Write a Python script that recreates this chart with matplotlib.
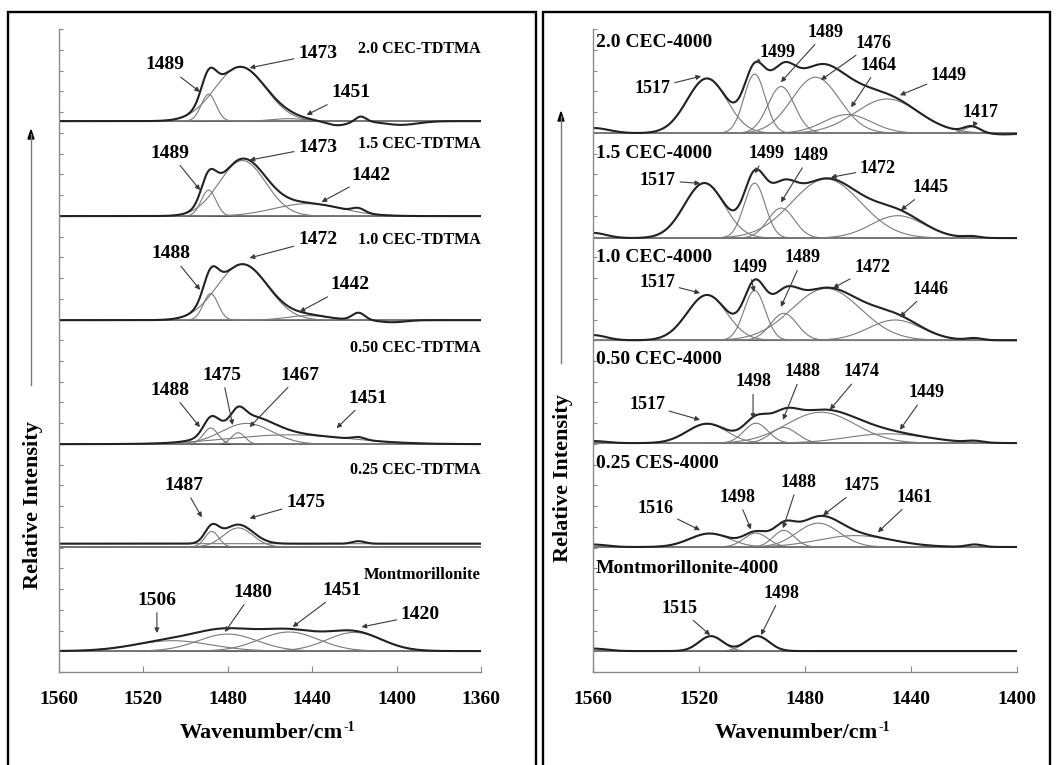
import numpy as np
import matplotlib.pyplot as plt
from matplotlib.patches import Rectangle

plt.rcParams['font.family'] = ['Liberation Serif', 'DejaVu Serif']
plt.rcParams['font.weight'] = 'bold'

# ---- left: TDTMA exchanged clays, 1560-1360 cm-1 ----
left_names = ['2.0 CEC-TDTMA', '1.5 CEC-TDTMA', '1.0 CEC-TDTMA',
              '0.50 CEC-TDTMA', '0.25 CEC-TDTMA', 'Montmorillonite']
left_offsets = [26.57, 21.99, 16.97, 10.99, 6.03, 1.01]
left_title_dy = [3.49, 3.47, 3.87, 4.63, 3.70, 3.66]
# fitted bands (centre, height, sigma)
left_bands = [
    [(1489, 1.30, 3.5), (1474, 2.62, 12), (1451, 0.12, 8)],
    [(1489, 1.25, 3.5), (1473, 2.68, 11), (1442, 0.60, 16)],
    [(1488, 1.28, 3.5), (1473, 2.70, 12), (1442, 0.22, 10)],
    [(1488, 0.78, 3.5), (1475, 0.55, 3.2), (1471, 1.00, 12), (1451, 0.45, 28)],
    [(1487.5, 0.75, 3.3), (1475, 0.92, 7)],
    [(1506, 0.50, 18), (1480, 0.82, 14), (1451, 0.92, 14), (1420, 0.90, 13)],
]
left_flat = [0, 0, 0, 0, 0.16, 0]
# small features present only in the measured trace
left_extra = [
    [(1428, -0.2, 5), (1417, 0.25, 2.5), (1398, -0.18, 8)],
    [(1418, 0.2, 3)],
    [(1418, 0.35, 3), (1402, -0.1, 6)],
    [(1418, 0.12, 3)],
    [(1418, 0.12, 3)],
    [],
]
# peak labels: text, text x, text dy, tip x, tip dy
left_labels = [
    [('1489', 1509.8, 2.71, 1493.1, 1.41), ('1473', 1437.4, 3.24, 1469.6, 2.57),
     ('1451', 1421.7, 1.36, 1442.6, 0.30)],
    [('1489', 1507.3, 3.04, 1493.0, 1.25), ('1473', 1437.4, 3.33, 1469.6, 2.70),
     ('1442', 1411.9, 1.98, 1435.5, 0.68)],
    [('1488', 1506.9, 3.20, 1493.0, 1.46), ('1472', 1437.4, 3.87, 1469.6, 3.00),
     ('1442', 1422.2, 1.70, 1445.9, 0.40)],
    [('1488', 1507.3, 2.60, 1493.1, 0.82), ('1475', 1482.6, 3.33, 1477.6, 0.92),
     ('1467', 1445.8, 3.33, 1469.6, 0.82), ('1451', 1413.7, 2.22, 1428.4, 0.77)],
    [('1487', 1500.8, 2.97, 1492.2, 1.43), ('1475', 1443.1, 2.16, 1469.6, 1.38)],
    [('1506', 1513.5, 2.46, 1513.5, 0.87), ('1480', 1468.1, 2.84, 1481.3, 0.92),
     ('1451', 1426.0, 2.94, 1449.2, 1.16), ('1420', 1388.7, 1.74, 1416.6, 1.16)],
]

# ---- right: 4000 series, 1560-1400 cm-1 ----
right_names = ['2.0 CEC-4000', '1.5 CEC-4000', '1.0 CEC-4000',
               '0.50 CEC-4000', '0.25 CES-4000', 'Montmorillonite-4000']
right_offsets = [25.99, 20.93, 16.00, 11.04, 6.03, 1.01]
right_title_dy = [4.39, 4.08, 3.97, 4.02, 4.04, 4.00]
right_bands = [
    [(1517, 2.64, 7.5), (1499, 2.85, 4), (1489, 2.25, 5), (1476, 2.70, 9),
     (1464, 0.90, 9), (1449, 1.65, 12), (1417, 0.30, 3)],
    [(1518, 2.65, 7.5), (1499, 2.65, 4), (1489, 1.45, 5), (1472, 2.85, 13),
     (1445, 1.08, 10)],
    [(1517, 2.18, 7.5), (1499, 2.40, 4), (1488, 1.30, 5), (1472, 2.50, 13),
     (1446, 0.98, 10)],
    [(1517, 0.93, 7.5), (1498.5, 0.96, 4.5), (1488, 0.75, 5), (1474, 1.49, 13),
     (1449, 0.45, 15)],
    [(1516, 0.65, 7.5), (1498.5, 0.67, 4.5), (1488, 0.80, 4), (1475, 1.15, 8),
     (1461, 0.55, 14)],
    [(1515.5, 0.72, 4.5), (1498, 0.72, 4.5)],
]
right_flat = [0, 0, 0, 0, 0, 0]
right_extra = [
    [(1560, 0.25, 6), (1405, -0.06, 5)],
    [(1560, 0.25, 5), (1417, 0.08, 3)],
    [(1560, 0.25, 5), (1416, 0.10, 3)],
    [(1560, 0.10, 5), (1416, 0.08, 3)],
    [(1560, 0.12, 5), (1416, 0.12, 3)],
    [(1560, 0.12, 5)],
]
right_labels = [
    [('1517', 1537.5, 2.17, 1519.2, 2.75), ('1499', 1490.2, 3.90, 1498.9, 3.38),
     ('1489', 1472.1, 4.87, 1489.1, 2.46), ('1476', 1454.3, 4.34, 1474.0, 2.56),
     ('1464', 1452.1, 3.28, 1462.6, 1.25), ('1449', 1425.7, 2.80, 1444.2, 1.83),
     ('1417', 1413.6, 1.01, 1416.6, 0.29)],
    [('1517', 1535.5, 2.78, 1519.6, 2.64), ('1499', 1494.7, 4.08, 1498.9, 3.12),
     ('1489', 1478.1, 3.99, 1489.1, 1.72), ('1472', 1452.5, 3.36, 1470.2, 2.93),
     ('1445', 1432.8, 2.44, 1443.8, 1.34)],
    [('1517', 1535.8, 2.81, 1519.6, 2.28), ('1499', 1501.1, 3.53, 1499.2, 2.33),
     ('1489', 1480.8, 3.97, 1489.1, 1.61), ('1472', 1454.7, 3.53, 1469.4, 2.52),
     ('1446', 1432.8, 2.47, 1444.2, 1.12)],
    [('1517', 1539.6, 1.85, 1519.6, 1.12), ('1498', 1499.6, 2.96, 1499.6, 1.17),
     ('1488', 1481.1, 3.44, 1488.3, 1.12), ('1474', 1458.5, 3.44, 1470.6, 1.61),
     ('1449', 1434.3, 2.43, 1444.2, 0.64)],
    [('1516', 1536.4, 1.87, 1519.6, 0.81), ('1498', 1505.4, 2.40, 1500.4, 0.85),
     ('1488', 1482.6, 3.12, 1488.3, 0.90), ('1475', 1458.5, 2.97, 1473.2, 1.53),
     ('1461', 1438.5, 2.40, 1452.5, 0.71)],
    [('1515', 1527.5, 2.07, 1515.8, 0.77), ('1498', 1488.7, 2.80, 1496.6, 0.77)],
]


def gauss(x, c, h, s):
    return h * np.exp(-0.5 * ((x - c) / s) ** 2)


def draw_panel(ax, x, names, offsets, title_dy, bands, flat, extra, labels,
               title_x, title_ha, title_size, label_size):
    for i in range(len(names)):
        base = offsets[i]
        ax.plot(x, np.full_like(x, base), color='#333333', lw=1.1)
        total = np.full_like(x, flat[i])
        if flat[i]:
            ax.plot(x, base + total, color='#7a7a7a', lw=0.8)
        for c, h, s in bands[i]:
            g = gauss(x, c, h, s)
            total = total + g
            ax.plot(x, base + g, color='#7a7a7a', lw=0.8)
        for c, h, s in extra[i]:
            total = total + gauss(x, c, h, s)
        ax.plot(x, base + total, color='#222222', lw=1.5)
        ax.text(title_x, base + title_dy[i], names[i], ha=title_ha, va='center',
                fontsize=title_size[i], fontweight='bold')
        for txt, tx, ty, px, py in labels[i]:
            ax.annotate(txt, xy=(px, base + py), xytext=(tx, base + ty),
                        ha='center', va='center', fontsize=label_size,
                        fontweight='bold',
                        arrowprops=dict(arrowstyle='-|>', color='#3a3a3a',
                                        lw=0.8, mutation_scale=7,
                                        shrinkA=1, shrinkB=0))


def style_axis(ax, xmax, xmin):
    ax.set_xlim(xmax, xmin)
    ax.set_ylim(0, 31)
    ax.set_xticks(np.arange(xmax, xmin - 1, -40))
    ax.set_yticks(np.arange(0, 32))
    ax.set_yticklabels([])
    for side in ('top', 'right'):
        ax.spines[side].set_visible(False)
    for side in ('left', 'bottom'):
        ax.spines[side].set_color('#8a8a8a')
        ax.spines[side].set_linewidth(1.0)
    ax.tick_params(axis='y', direction='in', length=3, color='#8a8a8a')
    ax.tick_params(axis='x', direction='in', length=4, color='#8a8a8a',
                   pad=14, labelsize=14)
    for t in ax.get_xticklabels():
        t.set_fontweight('bold')
    ax.set_xlabel('Wavenumber/cm', fontsize=16, fontweight='bold')
    ax.xaxis.set_label_coords(0.48, -0.095)
    ax.xaxis.label.set_va('center')
    # superscript -1 after the unit
    ax.annotate('-1', xy=(1.0, 0.78), xycoords=ax.xaxis.label, ha='left',
                va='center', fontsize=10, fontweight='bold')


fig = plt.figure(figsize=(10.58, 7.65), dpi=100)
W, H = 1058.0, 765.0

ax1 = fig.add_axes([58.7 / W, 1 - 672 / H, (481 - 58.7) / W, (672 - 29.3) / H])
ax2 = fig.add_axes([593 / W, 1 - 672 / H, (1017 - 593) / W, (672 - 29.3) / H])

x_left = np.linspace(1560, 1360, 1600)
x_right = np.linspace(1560, 1400, 1600)

draw_panel(ax1, x_left, left_names, left_offsets, left_title_dy, left_bands,
           left_flat, left_extra, left_labels, 1360, 'right',
           [11.5, 11.5, 11.5, 11.5, 11.5, 12], 14)
draw_panel(ax2, x_right, right_names, right_offsets, right_title_dy, right_bands,
           right_flat, right_extra, right_labels, 1559, 'left',
           [14, 14, 14, 14, 14, 14], 13)
style_axis(ax1, 1560, 1360)
style_axis(ax2, 1560, 1400)

# frames round the two panels
for x0, x1 in [(8, 536), (543, 1050)]:
    fig.patches.append(Rectangle((x0 / W, -0.01), (x1 - x0) / W, 1 - 12 / H + 0.01,
                                 transform=fig.transFigure, fill=False,
                                 ec='black', lw=1.7))

# intensity arrows and axis titles
for ax_x, y0, y1, lab_y in [(31, 385, 130, 505), (561, 363, 112, 478)]:
    fig.add_artist(plt.Line2D([ax_x / W, ax_x / W], [1 - y0 / H, 1 - (y1 + 4) / H],
                              color='#7a7a7a', lw=1.0))
    fig.patches.append(plt.Polygon([[ax_x / W, 1 - y1 / H],
                                    [(ax_x - 3) / W, 1 - (y1 + 9) / H],
                                    [(ax_x + 3) / W, 1 - (y1 + 9) / H]],
                                   closed=True, color='black',
                                   transform=fig.transFigure))
    fig.text(ax_x / W + 0.002, 1 - lab_y / H, 'Relative Intensity', rotation=90,
             ha='center', va='center', fontsize=16, fontweight='bold')

fig.savefig('out.png', dpi=100)
